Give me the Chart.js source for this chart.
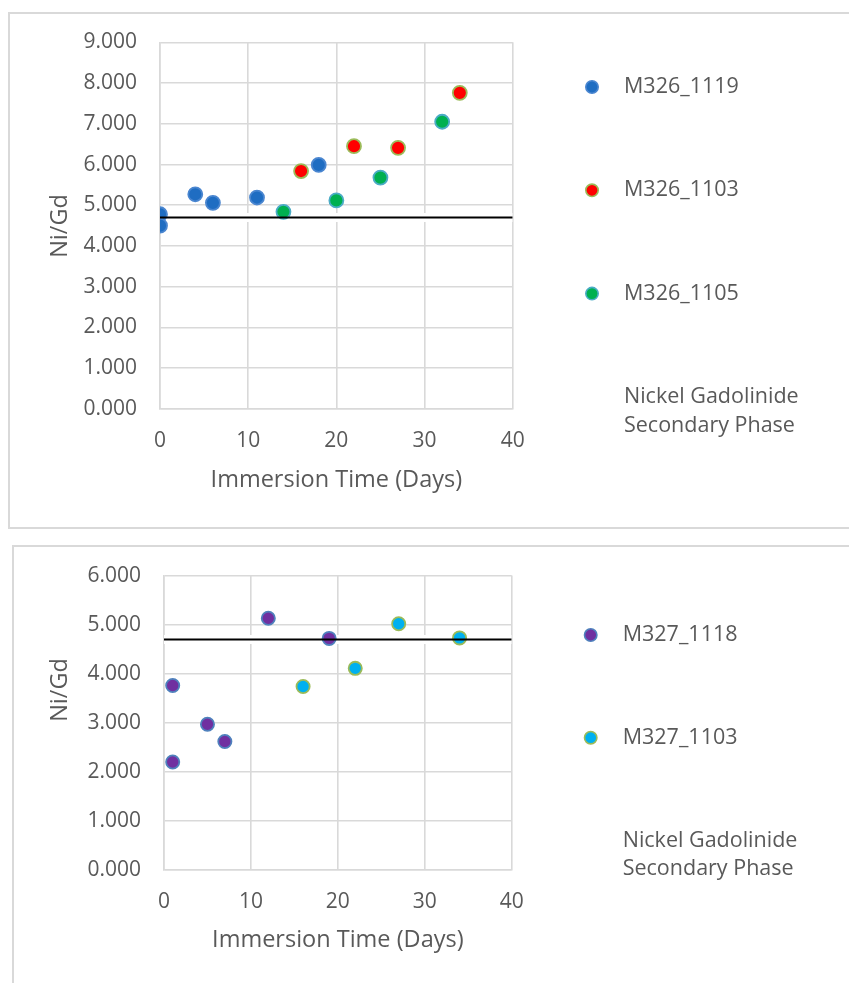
<!DOCTYPE html>
<html>
<head>
<meta charset="utf-8">
<script src="https://cdn.jsdelivr.net/npm/chart.js@4.4.0/dist/chart.umd.min.js"></script>
<style>
  html, body { margin: 0; padding: 0; background: #fff; overflow: hidden; }
  .frame { position: absolute; box-sizing: border-box; border: 2px solid #d9d9d9; background: #fff; }
  canvas { position: absolute; left: 0; }
</style>
</head>
<body>
<div class="frame" style="left:8px; top:12px; width:1000px; height:517px;"></div>
<div class="frame" style="left:12px; top:545px; width:1000px; height:500px;"></div>
<canvas id="chartM326" width="849" height="530" style="top:0"></canvas>
<canvas id="chartM327" width="849" height="443" style="top:540px"></canvas>
<script>
// Ni/Gd ratio against immersion time, two sample families
const m326_1119_days = [0, 0, 4, 6, 11, 18];
const m326_1119_ratio = [4.78, 4.50, 5.27, 5.06, 5.19, 5.99];
const m326_1103_days = [16, 22, 27, 34];
const m326_1103_ratio = [5.84, 6.45, 6.41, 7.76];
const m326_1105_days = [14, 20, 25, 32];
const m326_1105_ratio = [4.84, 5.12, 5.68, 7.05];

const m327_1118_days = [1, 1, 5, 7, 12, 19];
const m327_1118_ratio = [3.76, 2.20, 2.97, 2.62, 5.13, 4.72];
const m327_1103_days = [16, 22, 27, 34];
const m327_1103_ratio = [3.74, 4.11, 5.02, 4.73];

// Ni/Gd of the nickel gadolinide secondary phase
const phaseDays = [0, 40];
const phaseRatio = [4.70, 4.70];

const xMax = 40;
const yMaxM326 = 9;
const yMaxM327 = 6;

const FONT = '"Open Sans", "Noto Sans", sans-serif';
const TEXT = '#595959';
const GRID = '#d9d9d9';

function pts(xs, ys) {
    return xs.map((x, i) => ({ x, y: ys[i] }));
}

function markerSet(label, xs, ys, fill, edge, r) {
    return {
        label,
        data: pts(xs, ys),
        backgroundColor: fill,
        borderColor: edge,
        borderWidth: 1.8,
        pointRadius: r,
        pointHoverRadius: r,
        showLine: false,
        order: 1
    };
}

function phaseSets() {
    return [
        {
            label: 'Nickel Gadolinide\nSecondary Phase',
            data: pts(phaseDays, phaseRatio),
            showLine: true,
            borderColor: '#000000',
            borderWidth: 2,
            pointRadius: 0,
            order: 0
        },
        {
            // white band under the phase line
            label: '',
            data: pts(phaseDays, phaseRatio),
            showLine: true,
            borderColor: '#ffffff',
            borderWidth: 9,
            pointRadius: 0,
            order: 3
        }
    ];
}

// legend on the right: marker + label, evenly spaced
const sideLegend = {
    id: 'sideLegend',
    afterDraw(chart, args, opts) {
        const ctx = chart.ctx;
        ctx.save();
        ctx.font = opts.font;
        ctx.textBaseline = 'middle';
        ctx.textAlign = 'left';
        let y = opts.top;
        chart.data.datasets.forEach(ds => {
            if (!ds.label) return;
            if (ds.pointRadius > 0) {
                ctx.beginPath();
                ctx.arc(opts.markerX, y, opts.markerRadius, 0, Math.PI * 2);
                ctx.fillStyle = ds.backgroundColor;
                ctx.fill();
                ctx.lineWidth = 1.6;
                ctx.strokeStyle = ds.borderColor;
                ctx.stroke();
            }
            ctx.fillStyle = TEXT;
            ds.label.split('\n').forEach((line, i) => {
                ctx.fillText(line, opts.textX, y + i * opts.lineHeight);
            });
            y += opts.gap;
        });
        ctx.restore();
    }
};

// rotated value-axis caption
const sideTitle = {
    id: 'sideTitle',
    afterDraw(chart, args, opts) {
        const ctx = chart.ctx;
        ctx.save();
        ctx.font = opts.font;
        ctx.fillStyle = TEXT;
        ctx.textAlign = 'center';
        ctx.textBaseline = 'middle';
        ctx.translate(opts.x, opts.y);
        ctx.rotate(-Math.PI / 2);
        ctx.fillText(opts.text, 0, 0);
        ctx.restore();
    }
};

function scales(yMax, yWidth, xHeight, xTitlePad) {
    return {
        x: {
            type: 'linear',
            min: 0,
            max: xMax,
            ticks: { stepSize: 10, padding: 19, color: TEXT, font: { family: FONT, size: 21 } },
            grid: { color: GRID, lineWidth: 1.6, drawTicks: false },
            border: { color: GRID, width: 1.6 },
            title: {
                display: true,
                text: 'Immersion Time (Days)',
                color: TEXT,
                font: { family: FONT, size: 23.5 },
                padding: { top: 0, bottom: xTitlePad }
            },
            afterFit: s => { s.height = xHeight; }
        },
        y: {
            min: 0,
            max: yMax,
            ticks: {
                stepSize: 1,
                padding: 23,
                color: TEXT,
                font: { family: FONT, size: 21 },
                callback: v => v.toFixed(3)
            },
            grid: { color: GRID, lineWidth: 1.6, drawTicks: false },
            border: { color: GRID, width: 1.6 },
            afterFit: s => { s.width = yWidth; }
        }
    };
}

const commonPlugins = {
    legend: { display: false },
    tooltip: { enabled: false }
};

new Chart(document.getElementById('chartM326'), {
    type: 'scatter',
    data: {
        datasets: [
            markerSet('M326_1119', m326_1119_days, m326_1119_ratio, '#1f6dc2', '#4a86d0', 7),
            markerSet('M326_1103', m326_1103_days, m326_1103_ratio, '#ff0000', '#9bbb59', 7),
            markerSet('M326_1105', m326_1105_days, m326_1105_ratio, '#00b050', '#4bacc6', 7),
            ...phaseSets()
        ]
    },
    options: {
        responsive: false,
        animation: false,
        layout: { padding: { left: 0, top: 42.3, right: 336.3, bottom: 0 } },
        scales: scales(yMaxM326, 160, 121, 36),
        plugins: {
            ...commonPlugins,
            sideLegend: { font: `21.5px ${FONT}`, markerX: 592, markerRadius: 6.2, textX: 624, top: 87, gap: 103.3, lineHeight: 28.5 },
            sideTitle: { text: 'Ni/Gd', font: `23.5px ${FONT}`, x: 60, y: 226 }
        }
    },
    plugins: [sideLegend, sideTitle]
});

new Chart(document.getElementById('chartM327'), {
    type: 'scatter',
    data: {
        datasets: [
            markerSet('M327_1118', m327_1118_days, m327_1118_ratio, '#7030a0', '#4f81bd', 6.6),
            markerSet('M327_1103', m327_1103_days, m327_1103_ratio, '#00b0f0', '#9bbb59', 6.6),
            ...phaseSets()
        ]
    },
    options: {
        responsive: false,
        animation: false,
        layout: { padding: { left: 0, top: 35, right: 337.3, bottom: 0 } },
        scales: scales(yMaxM327, 164, 113, 29),
        plugins: {
            ...commonPlugins,
            sideLegend: { font: `21.5px ${FONT}`, markerX: 590.7, markerRadius: 6.2, textX: 622.7, top: 95, gap: 102.7, lineHeight: 28.5 },
            sideTitle: { text: 'Ni/Gd', font: `23.5px ${FONT}`, x: 60, y: 150 }
        }
    },
    plugins: [sideLegend, sideTitle]
});
</script>
</body>
</html>
